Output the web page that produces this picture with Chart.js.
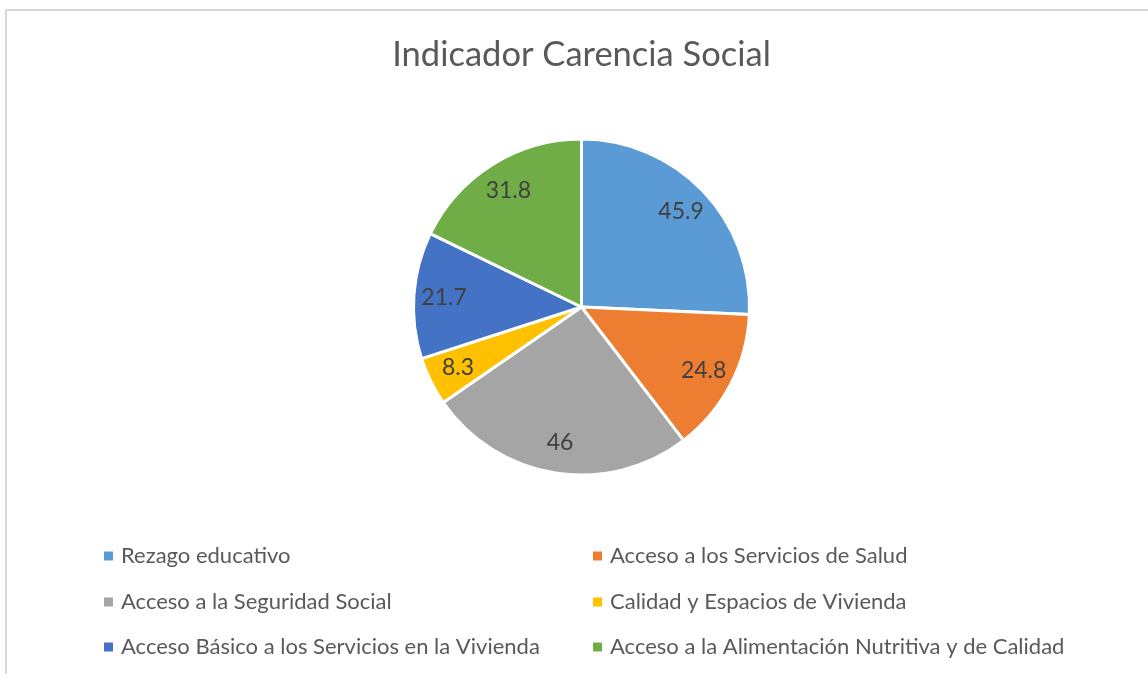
<!DOCTYPE html>
<html>
<head>
<meta charset="utf-8">
<script src="https://cdn.jsdelivr.net/npm/chart.js@4.4.0/dist/chart.umd.min.js"></script>
<style>
  html, body { margin: 0; padding: 0; background: #ffffff; }
  #wrap { position: relative; width: 1148px; height: 674px; }
  canvas { display: block; }
</style>
</head>
<body>
<div id="wrap"><canvas id="c" width="1148" height="674"></canvas></div>
<script>
const titleText = "Indicador Carencia Social";
const categories = [
  "Rezago educativo",
  "Acceso a los Servicios de Salud",
  "Acceso a la Seguridad Social",
  "Calidad y Espacios de Vivienda",
  "Acceso Básico a los Servicios en la Vivienda",
  "Acceso a la Alimentación Nutritiva y de Calidad"
];
const values = [45.9, 24.8, 46, 8.3, 21.7, 31.8];
const colors = ["#5B9BD5", "#ED7D31", "#A5A5A5", "#FFC000", "#4472C4", "#70AD47"];

const FONT = "Lato, 'Open Sans', sans-serif";

const frame = {
  id: 'frame',
  beforeDraw(chart) {
    const ctx = chart.ctx;
    ctx.save();
    ctx.strokeStyle = '#d9d9d9';
    ctx.lineWidth = 2;
    ctx.beginPath();
    ctx.moveTo(6, 674);
    ctx.lineTo(6, 10);
    ctx.lineTo(1148, 10);
    ctx.stroke();
    ctx.restore();
  }
};

const dataLabels = {
  id: 'dataLabels',
  afterDatasetsDraw(chart) {
    const ctx = chart.ctx;
    const meta = chart.getDatasetMeta(0);
    ctx.save();
    ctx.font = "23px " + FONT;
    ctx.fillStyle = '#404040';
    ctx.textAlign = 'center';
    ctx.textBaseline = 'middle';
    meta.data.forEach((arc, i) => {
      const p = arc.getProps(['x', 'y', 'startAngle', 'endAngle', 'outerRadius'], true);
      const mid = (p.startAngle + p.endAngle) / 2;
      const r = p.outerRadius * 0.82;
      ctx.fillText(String(chart.data.datasets[0].data[i]), p.x + Math.cos(mid) * r, p.y + Math.sin(mid) * r);
    });
    ctx.restore();
  }
};

const legendCols = [104, 593];
const legendRows = [556, 602, 647];
const customLegend = {
  id: 'customLegend',
  afterDraw(chart) {
    const ctx = chart.ctx;
    ctx.save();
    ctx.font = "22px " + FONT;
    ctx.textBaseline = 'middle';
    ctx.textAlign = 'left';
    chart.data.labels.forEach((lab, i) => {
      const x = legendCols[i % 2];
      const y = legendRows[Math.floor(i / 2)];
      ctx.fillStyle = chart.data.datasets[0].backgroundColor[i];
      ctx.fillRect(x, y - 4.5, 9, 9);
      ctx.fillStyle = '#595959';
      ctx.fillText(lab, x + 17, y);
    });
    ctx.restore();
  }
};

new Chart(document.getElementById('c'), {
  type: 'pie',
  data: {
    labels: categories,
    datasets: [{
      data: values,
      backgroundColor: colors,
      borderColor: '#ffffff',
      borderWidth: 3,
      radius: 168
    }]
  },
  options: {
    responsive: false,
    animation: false,
    layout: { padding: { left: 15, right: 0, top: 0, bottom: 199 } },
    plugins: {
      legend: { display: false },
      tooltip: { enabled: false },
      title: {
        display: true,
        text: titleText,
        color: '#595959',
        font: { family: FONT, size: 34.5, weight: 'normal', lineHeight: 1.2 },
        padding: { top: 34.3, bottom: 63.3 }
      }
    }
  },
  plugins: [frame, dataLabels, customLegend]
});
</script>
</body>
</html>
